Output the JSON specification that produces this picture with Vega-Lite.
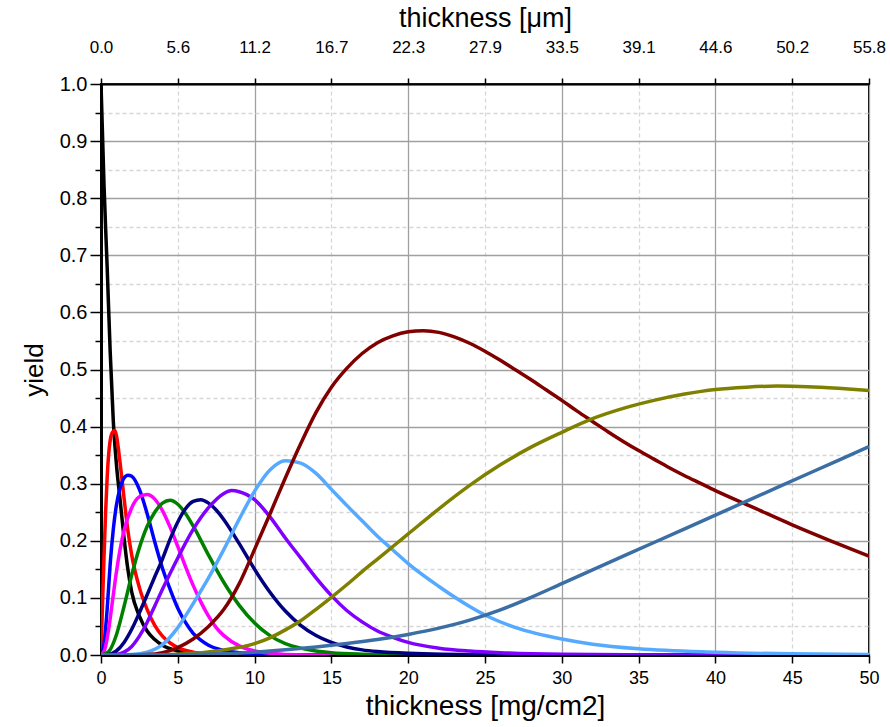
{
  "$schema": "https://vega.github.io/schema/vega-lite/v6.json",
  "width": 768,
  "height": 571,
  "autosize": {"type": "none"},
  "padding": {"left": 101, "top": 84, "right": 21, "bottom": 72},
  "background": "white",
  "config": {
    "view": {"stroke": "#000000", "strokeWidth": 2},
    "font": "Liberation Sans",
    "axis": {"labelFont": "Liberation Sans", "titleFont": "Liberation Sans", "labelColor": "#000", "titleColor": "#000", "titleFontWeight": "normal", "domainColor": "#000", "tickColor": "#000"}
  },
  "resolve": {"axis": {"x": "independent"}},
  "layer": [
    {
      "data": {"values": [
        {"c":"n0","x":0,"y":1.0},{"c":"n0","x":0.2,"y":0.82},{"c":"n0","x":0.4,"y":0.68},{"c":"n0","x":0.6,"y":0.53},{"c":"n0","x":0.8,"y":0.41},{"c":"n0","x":1.0,"y":0.335},{"c":"n0","x":1.25,"y":0.27},{"c":"n0","x":1.5,"y":0.205},{"c":"n0","x":1.75,"y":0.15},{"c":"n0","x":2,"y":0.11},{"c":"n0","x":2.5,"y":0.068},{"c":"n0","x":3,"y":0.042},{"c":"n0","x":3.5,"y":0.027},{"c":"n0","x":4,"y":0.017},{"c":"n0","x":5,"y":0.007},{"c":"n0","x":6,"y":0.003},{"c":"n0","x":8,"y":0.0005},{"c":"n0","x":10,"y":0},{"c":"n0","x":50,"y":0},
        {"c":"n1","x":0,"y":0},{"c":"n1","x":0.1,"y":0.09},{"c":"n1","x":0.2,"y":0.175},{"c":"n1","x":0.3,"y":0.25},{"c":"n1","x":0.4,"y":0.31},{"c":"n1","x":0.5,"y":0.352},{"c":"n1","x":0.6,"y":0.376},{"c":"n1","x":0.75,"y":0.39},{"c":"n1","x":0.9,"y":0.393},{"c":"n1","x":1.0,"y":0.385},{"c":"n1","x":1.25,"y":0.335},{"c":"n1","x":1.5,"y":0.275},{"c":"n1","x":1.75,"y":0.218},{"c":"n1","x":2,"y":0.175},{"c":"n1","x":2.5,"y":0.118},{"c":"n1","x":3,"y":0.08},{"c":"n1","x":3.5,"y":0.052},{"c":"n1","x":4,"y":0.033},{"c":"n1","x":4.5,"y":0.021},{"c":"n1","x":5,"y":0.013},{"c":"n1","x":6,"y":0.005},{"c":"n1","x":7,"y":0.002},{"c":"n1","x":8,"y":0.001},{"c":"n1","x":10,"y":0},{"c":"n1","x":50,"y":0},
        {"c":"n2","x":0,"y":0},{"c":"n2","x":0.2,"y":0.02},{"c":"n2","x":0.4,"y":0.08},{"c":"n2","x":0.6,"y":0.16},{"c":"n2","x":0.8,"y":0.22},{"c":"n2","x":1,"y":0.262},{"c":"n2","x":1.25,"y":0.293},{"c":"n2","x":1.5,"y":0.31},{"c":"n2","x":1.75,"y":0.315},{"c":"n2","x":2,"y":0.313},{"c":"n2","x":2.5,"y":0.29},{"c":"n2","x":3,"y":0.248},{"c":"n2","x":3.5,"y":0.198},{"c":"n2","x":4,"y":0.152},{"c":"n2","x":4.5,"y":0.115},{"c":"n2","x":5,"y":0.082},{"c":"n2","x":5.5,"y":0.057},{"c":"n2","x":6,"y":0.038},{"c":"n2","x":6.5,"y":0.026},{"c":"n2","x":7,"y":0.017},{"c":"n2","x":8,"y":0.008},{"c":"n2","x":9,"y":0.004},{"c":"n2","x":10,"y":0.002},{"c":"n2","x":12,"y":0.0005},{"c":"n2","x":15,"y":0},{"c":"n2","x":50,"y":0},
        {"c":"n3","x":0,"y":0},{"c":"n3","x":0.25,"y":0.01},{"c":"n3","x":0.5,"y":0.045},{"c":"n3","x":0.75,"y":0.095},{"c":"n3","x":1,"y":0.145},{"c":"n3","x":1.5,"y":0.218},{"c":"n3","x":2,"y":0.258},{"c":"n3","x":2.5,"y":0.277},{"c":"n3","x":3,"y":0.281},{"c":"n3","x":3.5,"y":0.273},{"c":"n3","x":4,"y":0.253},{"c":"n3","x":4.5,"y":0.224},{"c":"n3","x":5,"y":0.19},{"c":"n3","x":5.5,"y":0.155},{"c":"n3","x":6,"y":0.122},{"c":"n3","x":6.5,"y":0.093},{"c":"n3","x":7,"y":0.068},{"c":"n3","x":7.5,"y":0.048},{"c":"n3","x":8,"y":0.034},{"c":"n3","x":9,"y":0.016},{"c":"n3","x":10,"y":0.007},{"c":"n3","x":11,"y":0.003},{"c":"n3","x":12,"y":0.001},{"c":"n3","x":15,"y":0},{"c":"n3","x":50,"y":0},
        {"c":"n4","x":0,"y":0},{"c":"n4","x":0.5,"y":0.006},{"c":"n4","x":1,"y":0.035},{"c":"n4","x":1.5,"y":0.085},{"c":"n4","x":2,"y":0.14},{"c":"n4","x":2.5,"y":0.188},{"c":"n4","x":3,"y":0.225},{"c":"n4","x":3.5,"y":0.25},{"c":"n4","x":4,"y":0.266},{"c":"n4","x":4.5,"y":0.271},{"c":"n4","x":5,"y":0.264},{"c":"n4","x":5.5,"y":0.248},{"c":"n4","x":6,"y":0.226},{"c":"n4","x":7,"y":0.175},{"c":"n4","x":8,"y":0.127},{"c":"n4","x":9,"y":0.087},{"c":"n4","x":10,"y":0.056},{"c":"n4","x":11,"y":0.034},{"c":"n4","x":12,"y":0.02},{"c":"n4","x":13,"y":0.012},{"c":"n4","x":14,"y":0.007},{"c":"n4","x":15,"y":0.004},{"c":"n4","x":17,"y":0.0015},{"c":"n4","x":20,"y":0.0003},{"c":"n4","x":25,"y":0},{"c":"n4","x":50,"y":0},
        {"c":"n5","x":0,"y":0},{"c":"n5","x":0.5,"y":0.001},{"c":"n5","x":1,"y":0.007},{"c":"n5","x":1.5,"y":0.022},{"c":"n5","x":2,"y":0.045},{"c":"n5","x":2.5,"y":0.074},{"c":"n5","x":3,"y":0.105},{"c":"n5","x":3.5,"y":0.137},{"c":"n5","x":4,"y":0.168},{"c":"n5","x":4.5,"y":0.203},{"c":"n5","x":5,"y":0.233},{"c":"n5","x":5.5,"y":0.256},{"c":"n5","x":6,"y":0.269},{"c":"n5","x":6.5,"y":0.272},{"c":"n5","x":7,"y":0.266},{"c":"n5","x":7.5,"y":0.254},{"c":"n5","x":8,"y":0.237},{"c":"n5","x":9,"y":0.195},{"c":"n5","x":10,"y":0.15},{"c":"n5","x":11,"y":0.11},{"c":"n5","x":12,"y":0.077},{"c":"n5","x":13,"y":0.052},{"c":"n5","x":14,"y":0.034},{"c":"n5","x":15,"y":0.022},{"c":"n5","x":16,"y":0.014},{"c":"n5","x":17,"y":0.009},{"c":"n5","x":18,"y":0.006},{"c":"n5","x":20,"y":0.003},{"c":"n5","x":25,"y":0.0005},{"c":"n5","x":30,"y":0},{"c":"n5","x":50,"y":0},
        {"c":"n6","x":0,"y":0},{"c":"n6","x":1,"y":0.001},{"c":"n6","x":1.5,"y":0.005},{"c":"n6","x":2,"y":0.015},{"c":"n6","x":2.5,"y":0.033},{"c":"n6","x":3,"y":0.057},{"c":"n6","x":3.5,"y":0.086},{"c":"n6","x":4,"y":0.115},{"c":"n6","x":5,"y":0.17},{"c":"n6","x":6,"y":0.22},{"c":"n6","x":7,"y":0.258},{"c":"n6","x":8,"y":0.283},{"c":"n6","x":8.5,"y":0.288},{"c":"n6","x":9,"y":0.286},{"c":"n6","x":10,"y":0.272},{"c":"n6","x":11,"y":0.242},{"c":"n6","x":12,"y":0.205},{"c":"n6","x":13,"y":0.17},{"c":"n6","x":14,"y":0.135},{"c":"n6","x":15,"y":0.104},{"c":"n6","x":16,"y":0.078},{"c":"n6","x":17,"y":0.058},{"c":"n6","x":18,"y":0.042},{"c":"n6","x":19,"y":0.031},{"c":"n6","x":20,"y":0.022},{"c":"n6","x":22,"y":0.012},{"c":"n6","x":24,"y":0.007},{"c":"n6","x":26,"y":0.004},{"c":"n6","x":30,"y":0.0012},{"c":"n6","x":35,"y":0.0003},{"c":"n6","x":40,"y":0},{"c":"n6","x":50,"y":0},
        {"c":"n7","x":0,"y":0},{"c":"n7","x":2,"y":0.001},{"c":"n7","x":3,"y":0.005},{"c":"n7","x":4,"y":0.018},{"c":"n7","x":5,"y":0.048},{"c":"n7","x":6,"y":0.09},{"c":"n7","x":7,"y":0.135},{"c":"n7","x":8,"y":0.185},{"c":"n7","x":9,"y":0.238},{"c":"n7","x":10,"y":0.287},{"c":"n7","x":11,"y":0.324},{"c":"n7","x":12,"y":0.34},{"c":"n7","x":13,"y":0.336},{"c":"n7","x":14,"y":0.318},{"c":"n7","x":15,"y":0.29},{"c":"n7","x":16,"y":0.262},{"c":"n7","x":17,"y":0.235},{"c":"n7","x":18,"y":0.208},{"c":"n7","x":19,"y":0.184},{"c":"n7","x":20,"y":0.16},{"c":"n7","x":22,"y":0.12},{"c":"n7","x":24,"y":0.085},{"c":"n7","x":25,"y":0.07},{"c":"n7","x":27,"y":0.048},{"c":"n7","x":30,"y":0.028},{"c":"n7","x":32,"y":0.019},{"c":"n7","x":35,"y":0.011},{"c":"n7","x":40,"y":0.005},{"c":"n7","x":45,"y":0.002},{"c":"n7","x":50,"y":0.001},
        {"c":"n8","x":0,"y":0},{"c":"n8","x":3,"y":0.001},{"c":"n8","x":4,"y":0.004},{"c":"n8","x":5,"y":0.013},{"c":"n8","x":6,"y":0.028},{"c":"n8","x":7,"y":0.05},{"c":"n8","x":8,"y":0.08},{"c":"n8","x":9,"y":0.125},{"c":"n8","x":10,"y":0.185},{"c":"n8","x":11,"y":0.247},{"c":"n8","x":12,"y":0.31},{"c":"n8","x":13,"y":0.37},{"c":"n8","x":14,"y":0.425},{"c":"n8","x":15,"y":0.469},{"c":"n8","x":16,"y":0.502},{"c":"n8","x":17,"y":0.528},{"c":"n8","x":18,"y":0.547},{"c":"n8","x":19,"y":0.559},{"c":"n8","x":20,"y":0.566},{"c":"n8","x":21,"y":0.568},{"c":"n8","x":22,"y":0.565},{"c":"n8","x":23,"y":0.557},{"c":"n8","x":24,"y":0.546},{"c":"n8","x":25,"y":0.532},{"c":"n8","x":26,"y":0.516},{"c":"n8","x":27,"y":0.499},{"c":"n8","x":28,"y":0.482},{"c":"n8","x":29,"y":0.464},{"c":"n8","x":30,"y":0.446},{"c":"n8","x":31,"y":0.427},{"c":"n8","x":32,"y":0.409},{"c":"n8","x":33,"y":0.391},{"c":"n8","x":34,"y":0.374},{"c":"n8","x":35,"y":0.358},{"c":"n8","x":36,"y":0.343},{"c":"n8","x":37,"y":0.328},{"c":"n8","x":38,"y":0.314},{"c":"n8","x":39,"y":0.301},{"c":"n8","x":40,"y":0.288},{"c":"n8","x":42.5,"y":0.258},{"c":"n8","x":45,"y":0.228},{"c":"n8","x":47.5,"y":0.2},{"c":"n8","x":50,"y":0.173},
        {"c":"n9","x":0,"y":0},{"c":"n9","x":4,"y":0.0005},{"c":"n9","x":6,"y":0.003},{"c":"n9","x":8,"y":0.009},{"c":"n9","x":10,"y":0.02},{"c":"n9","x":11,"y":0.03},{"c":"n9","x":12,"y":0.044},{"c":"n9","x":13,"y":0.06},{"c":"n9","x":14,"y":0.08},{"c":"n9","x":15,"y":0.101},{"c":"n9","x":16,"y":0.123},{"c":"n9","x":17,"y":0.146},{"c":"n9","x":18,"y":0.168},{"c":"n9","x":19,"y":0.19},{"c":"n9","x":20,"y":0.212},{"c":"n9","x":22,"y":0.256},{"c":"n9","x":24,"y":0.297},{"c":"n9","x":26,"y":0.333},{"c":"n9","x":28,"y":0.364},{"c":"n9","x":30,"y":0.39},{"c":"n9","x":32,"y":0.414},{"c":"n9","x":34,"y":0.432},{"c":"n9","x":36,"y":0.446},{"c":"n9","x":38,"y":0.457},{"c":"n9","x":40,"y":0.465},{"c":"n9","x":42,"y":0.469},{"c":"n9","x":44,"y":0.471},{"c":"n9","x":46,"y":0.47},{"c":"n9","x":48,"y":0.467},{"c":"n9","x":50,"y":0.463},
        {"c":"n10","x":0,"y":0},{"c":"n10","x":5,"y":0.0005},{"c":"n10","x":8,"y":0.002},{"c":"n10","x":10,"y":0.005},{"c":"n10","x":12,"y":0.009},{"c":"n10","x":14,"y":0.014},{"c":"n10","x":16,"y":0.02},{"c":"n10","x":18,"y":0.027},{"c":"n10","x":20,"y":0.036},{"c":"n10","x":22,"y":0.047},{"c":"n10","x":24,"y":0.061},{"c":"n10","x":26,"y":0.079},{"c":"n10","x":28,"y":0.101},{"c":"n10","x":30,"y":0.125},{"c":"n10","x":32,"y":0.149},{"c":"n10","x":34,"y":0.173},{"c":"n10","x":36,"y":0.197},{"c":"n10","x":38,"y":0.221},{"c":"n10","x":40,"y":0.245},{"c":"n10","x":42,"y":0.269},{"c":"n10","x":44,"y":0.293},{"c":"n10","x":46,"y":0.317},{"c":"n10","x":48,"y":0.341},{"c":"n10","x":50,"y":0.365}
      ]},
      "mark": {"type": "line", "strokeWidth": 3.5, "interpolate": "monotone", "clip": true},
      "encoding": {
        "x": {"field": "x", "type": "quantitative", "scale": {"domain": [0, 50], "nice": false, "zero": false},
          "axis": {"orient": "bottom", "title": "thickness [mg/cm2]", "values": [0,5,10,15,20,25,30,35,40,45,50], "format": "d",
            "labelFontSize": 18, "titleFontSize": 28, "tickSize": 8, "tickWidth": 1.5, "domainWidth": 3, "labelPadding": 6, "titlePadding": 5, "labelFlush": false,
            "grid": true,
            "gridColor": {"condition": {"test": "datum.value % 10 === 0", "value": "#a0a0a0"}, "value": "#d6d6d6"},
            "gridDash": {"condition": {"test": "datum.value % 10 === 0", "value": []}, "value": [4, 3]},
            "gridWidth": 1.3}},
        "y": {"field": "y", "type": "quantitative", "scale": {"domain": [0, 1], "nice": false},
          "axis": {"title": "yield", "values": [0,0.05,0.1,0.15,0.2,0.25,0.3,0.35,0.4,0.45,0.5,0.55,0.6,0.65,0.7,0.75,0.8,0.85,0.9,0.95,1.0],
            "labelExpr": "round(datum.value*20) % 2 === 0 ? format(datum.value, '.1f') : ''",
            "labelFontSize": 20, "titleFontSize": 26, "tickWidth": 1.5, "domainWidth": 3, "labelPadding": 3, "titlePadding": 12, "labelFlush": false,
            "tickSize": {"condition": {"test": "round(datum.value*20) % 2 === 0", "value": 11}, "value": 6},
            "grid": true,
            "gridColor": {"condition": {"test": "round(datum.value*20) % 2 === 0", "value": "#a0a0a0"}, "value": "#d6d6d6"},
            "gridDash": {"condition": {"test": "round(datum.value*20) % 2 === 0", "value": []}, "value": [4, 3]},
            "gridWidth": 1.3}},
        "color": {"field": "c", "type": "nominal", "legend": null,
          "scale": {"domain": ["n10","n9","n8","n7","n6","n5","n4","n3","n2","n1","n0"],
            "range": ["#3a6ea5","#808000","#800000","#55aaff","#8000ff","#000080","#008000","#ff00ff","#0000ff","#ff0000","#000000"]}}
      }
    },
    {
      "data": {"values": [{"x": 0}, {"x": 50}]},
      "mark": {"type": "rule", "opacity": 0},
      "encoding": {
        "x": {"field": "x", "type": "quantitative", "scale": {"domain": [0, 50], "nice": false, "zero": false},
          "axis": {"orient": "top", "title": "thickness [μm]", "values": [0,5,10,15,20,25,30,35,40,45,50],
            "labelExpr": "format(datum.value*1.116, '.1f')", "labelFontSize": 17, "titleFontSize": 27, "labelFlush": false,
            "tickSize": 6, "tickWidth": 1.5, "domainWidth": 2, "labelPadding": 22, "titlePadding": 6, "grid": false}}
      }
    }
  ]
}
